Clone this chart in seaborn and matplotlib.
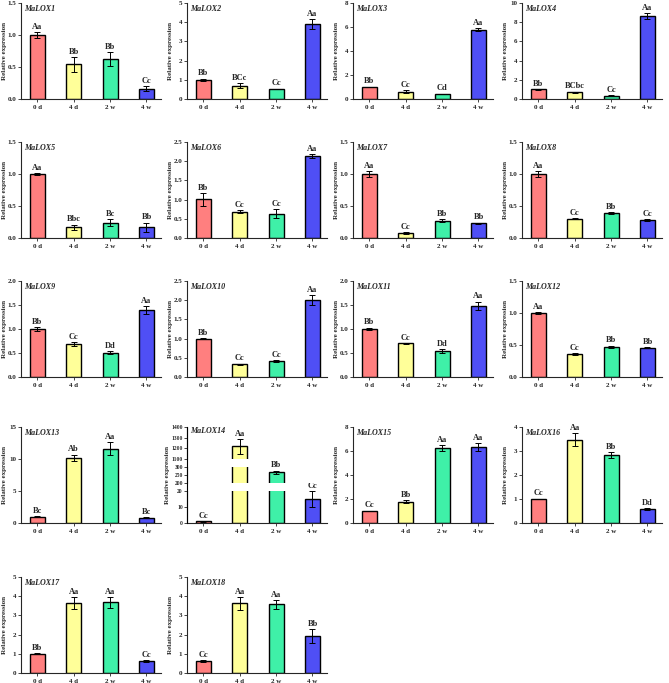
import numpy as np
import pandas as pd
import matplotlib
matplotlib.use("Agg")
import matplotlib.pyplot as plt
from matplotlib.lines import Line2D
import seaborn as sns

# ---- data ----
times = ["0 d", "4 d", "2 w", "4 w"]
bar_colors = ["#FF7F7F", "#FFFF99", "#3FF0A8", "#4F4FF5"]

genes = ["MaLOX%d" % i for i in range(1, 19)]

means = [
    [1.00, 0.54, 0.62, 0.16],
    [1.00, 0.70, 0.52, 3.92],
    [1.00, 0.62, 0.42, 5.78],
    [1.00, 0.72, 0.35, 8.65],
    [1.00, 0.17, 0.24, 0.17],
    [1.01, 0.69, 0.63, 2.14],
    [1.00, 0.08, 0.27, 0.23],
    [1.00, 0.30, 0.39, 0.28],
    [1.00, 0.68, 0.51, 1.39],
    [1.00, 0.33, 0.42, 2.01],
    [1.00, 0.70, 0.54, 1.48],
    [1.00, 0.36, 0.47, 0.46],
    [1.00, 10.2, 11.6, 0.85],
    [1.00, 1220, 270, 15.0],
    [1.00, 1.78, 6.25, 6.33],
    [1.00, 3.47, 2.82, 0.58],
    [1.00, 3.65, 3.68, 0.63],
    [0.63, 3.62, 3.57, 1.92],
]

sds = [
    [0.04, 0.12, 0.11, 0.04],
    [0.06, 0.12, 0.02, 0.25],
    [0.04, 0.10, 0.03, 0.12],
    [0.05, 0.06, 0.08, 0.30],
    [0.01, 0.04, 0.05, 0.07],
    [0.17, 0.03, 0.12, 0.05],
    [0.04, 0.01, 0.02, 0.01],
    [0.05, 0.01, 0.02, 0.01],
    [0.04, 0.04, 0.03, 0.08],
    [0.02, 0.02, 0.02, 0.13],
    [0.03, 0.01, 0.04, 0.09],
    [0.02, 0.01, 0.02, 0.005],
    [0.05, 0.50, 1.00, 0.10],
    [0.30, 70.0, 10.0, 5.00],
    [0.03, 0.10, 0.25, 0.35],
    [0.02, 0.27, 0.13, 0.04],
    [0.03, 0.30, 0.27, 0.05],
    [0.04, 0.32, 0.22, 0.35],
]

letters = [
    ["Aa", "Bb", "Bb", "Cc"],
    ["Bb", "BCc", "Cc", "Aa"],
    ["Bb", "Cc", "Cd", "Aa"],
    ["Bb", "BCbc", "Cc", "Aa"],
    ["Aa", "Bbc", "Bc", "Bb"],
    ["Bb", "Cc", "Cc", "Aa"],
    ["Aa", "Cc", "Bb", "Bb"],
    ["Aa", "Cc", "Bb", "Cc"],
    ["Bb", "Cc", "Dd", "Aa"],
    ["Bb", "Cc", "Cc", "Aa"],
    ["Bb", "Cc", "Dd", "Aa"],
    ["Aa", "Cc", "Bb", "Bb"],
    ["Bc", "Ab", "Aa", "Bc"],
    ["Cc", "Aa", "Bb", "Cc"],
    ["Cc", "Bb", "Aa", "Aa"],
    ["Cc", "Aa", "Bb", "Dd"],
    ["Bb", "Aa", "Aa", "Cc"],
    ["Cc", "Aa", "Aa", "Bb"],
]

y_max = [1.5, 5, 8, 10, 1.5, 2.5, 1.5, 1.5, 2.0, 2.5, 2.0, 1.5, 15, None, 8, 4, 5, 5]
y_step = [0.5, 1, 2, 2, 0.5, 0.5, 0.5, 0.5, 0.5, 0.5, 0.5, 0.5, 5, None, 2, 1, 1, 1]

# broken axis segments for MaLOX14
break_segments = [(0, 20, [0, 10, 20]), (200, 300, [200, 250, 300]),
                  (1100, 1400, [1100, 1200, 1300, 1400])]

# ---- style ----
sns.set_style("ticks")
plt.rcParams["font.family"] = ["Liberation Serif", "DejaVu Serif"]
plt.rcParams["font.weight"] = "bold"
plt.rcParams["axes.labelweight"] = "bold"

W, H = 669, 683
col_left = [21, 187, 353, 522]
row_bottom = [99, 238, 377, 523, 673]
ax_w, ax_h = 140, 96

TICK_FS = 5.0
LAB_FS = 5.0
LET_FS = 6.0
TITLE_FS = 5.8

fig = plt.figure(figsize=(W / 100, H / 100), dpi=100)


def px_axes(left, bottom, w, h):
    return fig.add_axes([left / W, 1 - bottom / H, w / W, h / H])


def draw_bars(ax, vals, errs):
    df = pd.DataFrame({"time": times, "value": vals})
    sns.barplot(data=df, x="time", y="value", hue="time", palette=bar_colors,
                saturation=1, width=0.41, edgecolor="black", linewidth=1.0,
                errorbar=None, legend=False, ax=ax)
    ax.errorbar(range(4), vals, yerr=errs, fmt="none", ecolor="black",
                elinewidth=0.7, capsize=2.5, capthick=0.7)
    ax.set_xlim(-0.45, 3.4)
    ax.set_xlabel("")
    ax.set_ylabel("")


def style_axis(ax, ticks, show_x=True, fs=TICK_FS):
    ax.set_yticks(ticks)
    ax.set_yticklabels(["%g" % t if ticks[1] - ticks[0] >= 1 else "%.1f" % t
                        for t in ticks])
    ax.tick_params(axis="y", labelsize=fs, length=2, width=0.6, pad=1.5)
    ax.tick_params(axis="x", labelsize=TICK_FS, length=2, width=0.6, pad=2)
    for s in ["top", "right"]:
        ax.spines[s].set_visible(False)
    for s in ["left", "bottom"]:
        ax.spines[s].set_linewidth(0.8)
    if not show_x:
        ax.spines["bottom"].set_visible(False)
        ax.tick_params(axis="x", bottom=False, labelbottom=False)


for g in range(18):
    r, c = divmod(g, 4)
    left = col_left[c]
    bottom = row_bottom[r]
    vals, errs, labs = means[g], sds[g], letters[g]

    if y_max[g] is None:
        # broken y axis: three stacked segments
        seg_px = [(bottom, 32), (bottom - 39.6, 16), (bottom - 64, 32)]
        seg_axes = []
        for k, ((lo, hi, ticks), (b, h)) in enumerate(zip(break_segments, seg_px)):
            ax = px_axes(left, b, ax_w, h)
            draw_bars(ax, vals, errs)
            ax.set_ylim(lo, hi)
            style_axis(ax, ticks, show_x=(k == 0), fs=4.0)
            ax.tick_params(axis="y", pad=1.0)
            for i in range(4):
                if lo <= vals[i] <= hi:
                    ax.text(i, vals[i] + errs[i] + 0.012 * (hi - lo) * 96 / h, labs[i],
                            ha="center", va="bottom", fontsize=LET_FS, fontweight="bold")
            seg_axes.append(ax)
        fig.add_artist(Line2D([left / W, left / W], [1 - bottom / H, 1 - (bottom - 96) / H],
                              transform=fig.transFigure, color="black", lw=0.8))
        seg_axes[1].set_ylabel("Relative expression", fontsize=LAB_FS, fontweight="bold")
        seg_axes[1].yaxis.set_label_coords(-0.118, 0.5)
        seg_axes[2].text(0.02, 0.88, genes[g], transform=seg_axes[2].transAxes,
                         ha="left", va="center", fontsize=TITLE_FS, fontweight="bold",
                         fontstyle="italic")
        continue

    ax = px_axes(left, bottom, ax_w, ax_h)
    draw_bars(ax, vals, errs)
    ax.set_ylim(0, y_max[g])
    ticks = list(np.arange(0, y_max[g] + y_step[g] / 2, y_step[g]))
    style_axis(ax, ticks)
    for i in range(4):
        ax.text(i, vals[i] + errs[i] + 0.012 * y_max[g], labs[i],
                ha="center", va="bottom", fontsize=LET_FS, fontweight="bold")
    ax.set_ylabel("Relative expression", fontsize=LAB_FS, fontweight="bold")
    ax.yaxis.set_label_coords(-0.10, 0.5)
    ax.text(0.02, 0.94, genes[g], transform=ax.transAxes, ha="left", va="center",
            fontsize=TITLE_FS, fontweight="bold", fontstyle="italic")

fig.savefig("out.png", dpi=100, facecolor="white")
